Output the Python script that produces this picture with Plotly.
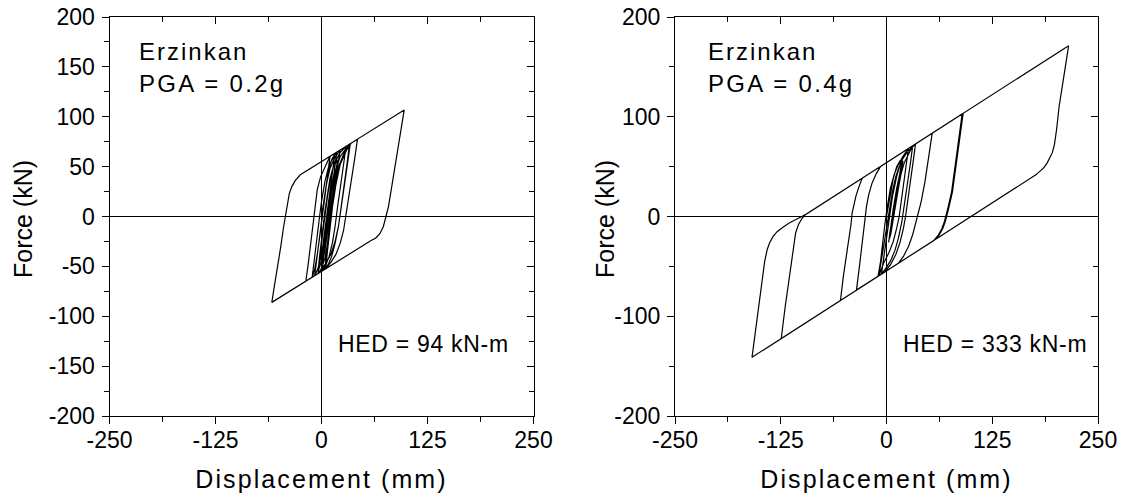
import plotly.graph_objects as go

# ---------------- data ----------------
# Panel 1: Erzinkan, PGA = 0.2g  (displacement mm, force kN), time-ordered path
disp_pga02 = [
    0, 4, 8, 12, 16, 13, 10, 7, 4, 1, -2, -5, -8, -6, -3, 0, 3, 6, 10, 15, 22,
    19, 16, 13, 10, 7, 4, 0, -4, -2, 1, 4, 7, 11, 16, 22, 29,
    26, 22, 19, 16, 13, 9, 5, 1, 3, 6, 9, 12, 16, 22, 28, 34,
    31, 27, 23, 20, 16, 12, 8, 4, 6, 9, 12, 16, 21, 27, 35, 97.5,
    94, 90, 86, 82, 79, 76, 73, 69, 64, 58, -58.6,
    -56, -52, -48, -45, -42.4, -40.5, -38, -35, -31, -25, 42.4,
    39.5, 36, 32, 28.5, 26, 22, 17, 11, 5, 7, 10, 13, 17, 22, 27, 33,
    30, 26, 23, 20, 16, 11, 5, -2, -10, -18.5,
    -16, -13, -10.5, -8, -5, -1, 4, 10,
    7, 4, 1, -2, -5, -8, -11, -8.5, -6, -3, 0, 4, 9, 18,
    15, 12, 9, 6, 3, 0, -4, -2, 1, 4, 7, 10, 14, 19,
    16, 13, 10, 7, 4, 0, 2, 5, 8, 11, 14, 11, 8, 5, 2,
]
force_pga02 = [
    0, 25, 45, 57, 63.5, 45, 25, 5, -15, -33, -46, -54, -59.2, -45, -25, -5, 15, 33, 48, 58, 66.7,
    50, 30, 10, -10, -28, -42, -52, -57.1, -40, -20, 0, 20, 40, 55, 64, 70.4,
    52, 30, 10, -10, -26, -40, -49, -54.5, -35, -15, 5, 25, 45, 60, 67, 73,
    55, 32, 8, -10, -27, -40, -48, -52.9, -35, -12, 10, 32, 52, 64, 73.6, 106.7,
    88, 66, 45, 25, 10, 0, -10, -17, -21.5, -24.3, -86.1,
    -72, -52, -30, -12, 0, 12, 23, 30, 36, 41.8, 77.5,
    60, 40, 20, 0, -14, -27, -38, -46, -52.4, -35, -12, 10, 32, 52, 62, 72.5,
    52, 28, 8, -10, -25, -38, -47, -56, -60.3, -64.8,
    -50, -28, -8, 10, 27, 40, 50, 60.3,
    40, 18, 0, -20, -38, -53, -60.8, -45, -25, -5, 15, 35, 52, 64.5,
    45, 25, 5, -15, -32, -45, -55, -38, -15, 5, 22, 38, 50, 57,
    40, 20, 0, -20, -35, -48, -30, -8, 12, 28, 40, 22, 2, -18, -32,
]

# Panel 2: Erzinkan, PGA = 0.4g
disp_pga04 = [
    0, 4, 8, 12, 16, 18.5, 15, 11, 7, 4, 2.8, 5, 8, 12, 15, 18, 19.5,
    16, 12, 8, 5, 3.5, 6, 9, 13, 17, 21, 26, 31,
    28, 24.5, 21, 18, 14, 10, 5, 0, -6, -3, 0, 3, 7, 12, 17, 24, 34.3,
    31.5, 27.5, 24.5, 22.5, 20, 16, 11, 5, -2, -10, -54.4,
    -51, -46, -42, -40.6, -38.5, -36, -32.5, -28.8, 54,
    50, 45.5, 41, 37.5, 35, 31, 26, 20, 14, -35.5,
    -32, -28, -25, -23.6, -21, -17, -12, -7, 89.4,
    86, 81.5, 77, 73, 71, 68.5, 65.5, 61, 56, -124.4,
    -120, -115, -110.5, -107.4, -104, -100, -96, 215.3,
    211, 207.6, 204, 201, 198.5, 196, 193, 190, 186, 182, 177, -159,
    -155, -151, -147, -144, -141, -138, -134, -129, -122, -115, -107, -99, -93.5, 90.6,
    87, 82.5, 78, 74, 72, 69.5, 66.5, 62, 56.5, -10,
    -7, -4.5, -2, 1, 4.5, 9, 14, 20, 26,
    23, 20, 17.5, 15, 12, 8, 3, -3, -9,
    -6, -3, 0, 3, 7, 11, 15, 18, 15, 11, 7, 4, 2.5,
]
force_pga04 = [
    0, 20, 38, 50, 56, 57, 40, 18, -2, -16, -24.7, -10, 8, 28, 42, 52, 56,
    38, 16, -4, -18, -22, -10, 6, 26, 42, 54, 62, 70.9,
    52, 30, 10, -6, -22, -34, -44, -51, -57.8, -40, -20, 0, 20, 40, 55, 64, 72.7,
    55, 30, 10, 0, -12, -26, -38, -48, -55.6, -60, -84.1,
    -60, -32, -8, 3.7, 13, 21, 30, 38.3, 83.4,
    60, 35, 15, 3, -6, -18, -30, -40, -46.9, -73.8,
    -50, -22, -3, 10.4, 22, 33.7, 43, 50.2, 102.7,
    80, 50, 25, 10, 3, -5, -12, -19, -24, -122.3,
    -92, -62, -35, -16.4, -8, -2, 1.7, 171.3,
    148, 130.6, 110, 87, 72, 64, 58, 53.8, 49, 45.4, 42, -141.2,
    -115, -88, -62, -45, -33, -26, -20, -15, -10.5, -6.5, -3, 0.5, 3.0, 103.4,
    80, 50, 25, 10, 3, -5, -12, -19, -23.7, -60,
    -45, -25, -8, 10, 28, 42, 52, 61, 68.2,
    50, 30, 12, 0, -12, -25, -36, -46, -59.4,
    -44, -28, -12, 5, 25, 40, 50, 55, 38, 18, -2, -18, -26,
]

x_tick_vals = [-250, -125, 0, 125, 250]
x_tick_text = ["-250", "-125", "0", "125", "250"]
y_tick_vals_02 = [-200, -150, -100, -50, 0, 50, 100, 150, 200]
y_tick_text_02 = ["-200", "-150", "-100", "-50", "0", "50", "100", "150", "200"]
y_tick_vals_04 = [-200, -100, 0, 100, 200]
y_tick_text_04 = ["-200", "-100", "0", "100", "200"]

record_name = "Erzinkan"
pga_labels = ["PGA = 0.2g", "PGA = 0.4g"]
hed_labels = ["HED = 94 kN-m", "HED = 333 kN-m"]
x_title = "Displacement (mm)"
y_title = "Force (kN)"

# ---------------- figure ----------------
W, H = 1122, 502
FONT = "Liberation Sans, Arial, Helvetica, sans-serif"
BLACK = "black"


def spaced(txt, px):
    return "<span style='letter-spacing:%.1fpx'>%s</span>" % (px, txt)


dom_x1 = [109.5 / W, 533.5 / W]
dom_x2 = [675.0 / W, 1098.0 / W]
dom_y = [1 - 416.0 / H, 1 - 17.0 / H]

fig = go.Figure()
line_style = dict(color=BLACK, width=1.2)
fig.add_trace(go.Scatter(x=disp_pga02, y=force_pga02, mode="lines", line=line_style,
                         xaxis="x", yaxis="y", showlegend=False, hoverinfo="skip"))
fig.add_trace(go.Scatter(x=disp_pga04, y=force_pga04, mode="lines", line=line_style,
                         xaxis="x2", yaxis="y2", showlegend=False, hoverinfo="skip"))
# empty traces to create the overlay (top / right tick) axes
fig.add_trace(go.Scatter(x=[None], y=[None], xaxis="x3", yaxis="y3", showlegend=False, hoverinfo="skip"))
fig.add_trace(go.Scatter(x=[None], y=[None], xaxis="x4", yaxis="y4", showlegend=False, hoverinfo="skip"))

tickfont = dict(family=FONT, size=23, color=BLACK)
xtitlefont = dict(family=FONT, size=25, color=BLACK)
ytitlefont = dict(family=FONT, size=25, color=BLACK)


def main_axis(rng, vals, text, minor_dt, title, tfont, standoff, label_off, **kw):
    d = dict(range=rng, tickmode="array", tickvals=vals, ticktext=text,
             showline=True, linecolor=BLACK, linewidth=1, mirror=True,
             ticks="outside", ticklen=7, tickwidth=1, tickcolor=BLACK,
             minor=dict(ticks="outside", ticklen=5, tickwidth=1, tickcolor=BLACK,
                        dtick=minor_dt, showgrid=False),
             showgrid=False, zeroline=True, zerolinecolor=BLACK, zerolinewidth=1,
             tickfont=tickfont, fixedrange=True, automargin=False,
             ticklabelstandoff=label_off,
             title=dict(text=title, font=tfont, standoff=standoff))
    d.update(kw)
    return d


def overlay_axis(rng, vals, minor_dt, **kw):
    d = dict(range=rng, tickmode="array", tickvals=vals, showticklabels=False,
             showline=False, ticks="inside", ticklen=7, tickwidth=1, tickcolor=BLACK,
             minor=dict(ticks="inside", ticklen=5, tickwidth=1, tickcolor=BLACK,
                        dtick=minor_dt, showgrid=False),
             showgrid=False, zeroline=False, fixedrange=True, automargin=False)
    d.update(kw)
    return d


xt = spaced(x_title, 2.1)
fig.update_layout(
    width=W, height=H,
    margin=dict(l=0, r=0, t=0, b=0, autoexpand=False),
    paper_bgcolor="white", plot_bgcolor="white",
    font=dict(family=FONT, color=BLACK),
    xaxis=main_axis([-250, 250], x_tick_vals, x_tick_text, 62.5, xt, xtitlefont, 18, -4,
                    domain=dom_x1, anchor="y"),
    yaxis=main_axis([-200, 200], y_tick_vals_02, y_tick_text_02, 25, "", ytitlefont, 0, 2,
                    domain=dom_y, anchor="x"),
    xaxis2=main_axis([-250, 250], x_tick_vals, x_tick_text, 62.5, xt, xtitlefont, 18, -4,
                     domain=dom_x2, anchor="y2"),
    yaxis2=main_axis([-200, 200], y_tick_vals_04, y_tick_text_04, 50, "", ytitlefont, 0, 2,
                     domain=dom_y, anchor="x2"),
    xaxis3=overlay_axis([-250, 250], x_tick_vals, 62.5, overlaying="x", side="top", anchor="y3"),
    yaxis3=overlay_axis([-200, 200], y_tick_vals_02, 25, overlaying="y", side="right", anchor="x3"),
    xaxis4=overlay_axis([-250, 250], x_tick_vals, 62.5, overlaying="x2", side="top", anchor="y4"),
    yaxis4=overlay_axis([-200, 200], y_tick_vals_04, 50, overlaying="y2", side="right", anchor="x4"),
)

# y-axis titles (rotated text)
for cx in [23, 605]:
    fig.add_annotation(text=y_title, xref="paper", yref="paper", textangle=-90,
                       x=cx / W, y=1 - 219 / H, xanchor="center", yanchor="middle",
                       showarrow=False, font=ytitlefont)

label_font = dict(family=FONT, size=24, color=BLACK)
for left_px, pga in zip([137, 706], pga_labels):
    fig.add_annotation(text=spaced(record_name, 2.0), xref="paper", yref="paper",
                       x=left_px / W, y=1 - 51 / H, xanchor="left", yanchor="middle",
                       showarrow=False, font=label_font)
    fig.add_annotation(text=spaced(pga, 2.3), xref="paper", yref="paper",
                       x=left_px / W, y=1 - 84 / H, xanchor="left", yanchor="middle",
                       showarrow=False, font=label_font)

hed_font = dict(family=FONT, size=23, color=BLACK)
for cx, hed in zip([423, 995], hed_labels):
    fig.add_annotation(text=spaced(hed, 0.7), xref="paper", yref="paper",
                       x=cx / W, y=1 - 344 / H, xanchor="center", yanchor="middle",
                       showarrow=False, font=hed_font)

fig.write_html("out.html")
